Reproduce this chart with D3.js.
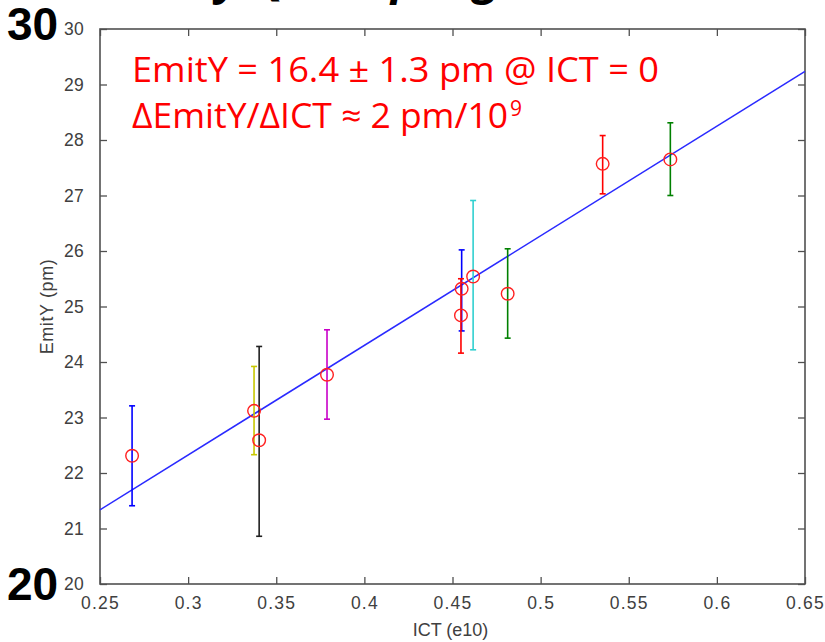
<!DOCTYPE html>
<html>
<head>
<meta charset="utf-8">
<script src="https://cdn.jsdelivr.net/npm/d3@7"></script>
<style>
  html, body { margin: 0; padding: 0; background: #fff; }
  svg { display: block; }
</style>
</head>
<body>
<svg id="chart" width="825" height="642"></svg>
<script>
// Measured beam size versus bunch intensity
const ict      = [0.2682, 0.3374, 0.3403, 0.3788, 0.4552, 0.4548, 0.4617, 0.4813, 0.5352, 0.5736];
const emitY    = [22.31, 23.12, 22.59, 23.77, 25.32, 24.84, 25.54, 25.23, 27.57, 27.65];
const errLow   = [21.41, 22.33, 20.86, 22.97, 24.56, 24.16, 24.22, 24.43, 27.03, 27.00];
const errHigh  = [23.21, 23.92, 24.28, 24.58, 26.02, 25.50, 26.91, 26.04, 28.08, 28.31];
const barColors = ["#0000ff", "#c8c800", "#202020", "#c800c8", "#0000ff", "#ff0000", "#30d0d0", "#008000", "#ff0000", "#008000"];

// Linear fit: EmitY = intercept + slope * ICT
const fitIntercept = 16.4;
const fitSlope = 19.75;

const xTicks = [0.25, 0.3, 0.35, 0.4, 0.45, 0.5, 0.55, 0.6, 0.65];
const yTicks = [20, 21, 22, 23, 24, 25, 26, 27, 28, 29, 30];

// Slide title words, running off the top edge
const titleWords = ["Intensity", "Q", "coupling"];

const svg = d3.select("#chart");
const L = 100, R = 805, T = 29, B = 584;

const x = d3.scaleLinear().domain([0.25, 0.65]).range([L, R]);
const y = d3.scaleLinear().domain([20, 30]).range([B, T]);

// Title: each word anchored at a given glyph position
const titleAnchors = [[8, 216], [0, 252], [3, 391]]; // [char index, x of that char]
titleWords.forEach((w, k) => {
  const t = svg.append("text")
    .attr("x", 0).attr("y", -6)
    .attr("font-family", "Open Sans, sans-serif")
    .attr("font-weight", "bold").attr("font-style", "italic")
    .attr("font-size", 46).attr("fill", "#000")
    .text(w);
  const [ci, cx] = titleAnchors[k];
  const off = t.node().getStartPositionOfChar(ci).x;
  t.attr("x", cx - off);
});

// Big slide labels beside the axis ends
svg.append("text").attr("x", 7).attr("y", 40)
  .attr("font-family", "Liberation Sans, Arial, sans-serif")
  .attr("font-weight", "bold").attr("font-size", 46).text("30");
svg.append("text").attr("x", 7).attr("y", 600)
  .attr("font-family", "Liberation Sans, Arial, sans-serif")
  .attr("font-weight", "bold").attr("font-size", 46).text("20");

const tickFont = "Liberation Sans, Arial, sans-serif";
const axisColor = "#505050";
const labelColor = "#404040";

// Axes with inward ticks on all four sides
const gx = svg.append("g").attr("transform", `translate(0,${B})`)
  .call(d3.axisBottom(x).tickValues(xTicks).tickSizeInner(-7).tickSizeOuter(0).tickPadding(13)
    .tickFormat(d3.format("~g")));
const gxTop = svg.append("g").attr("transform", `translate(0,${T})`)
  .call(d3.axisTop(x).tickValues(xTicks).tickSizeInner(-7).tickSizeOuter(0).tickFormat(""));
const gy = svg.append("g").attr("transform", `translate(${L},0)`)
  .call(d3.axisLeft(y).tickValues(yTicks).tickSizeInner(-7).tickSizeOuter(0).tickPadding(16));
const gyRight = svg.append("g").attr("transform", `translate(${R},0)`)
  .call(d3.axisRight(y).tickValues(yTicks).tickSizeInner(-7).tickSizeOuter(0).tickFormat(""));

[gx, gxTop, gy, gyRight].forEach(g => {
  g.select(".domain").remove();
  g.selectAll(".tick line").attr("stroke", axisColor).attr("stroke-width", 1.3);
  g.selectAll(".tick text")
    .attr("font-family", tickFont).attr("font-size", 17.5)
    .attr("fill", labelColor).attr("letter-spacing", 1.2);
});
gy.selectAll(".tick text").attr("dy", "0.34em").attr("letter-spacing", 0.3);
gx.selectAll(".tick text").attr("dy", "0.71em");

// Plot frame
svg.append("rect")
  .attr("x", L).attr("y", T).attr("width", R - L).attr("height", B - T)
  .attr("fill", "none").attr("stroke", axisColor).attr("stroke-width", 1.6);

// Axis titles
svg.append("text")
  .attr("x", (L + R) / 2 - 2).attr("y", 636)
  .attr("text-anchor", "middle")
  .attr("font-family", tickFont).attr("font-size", 18).attr("fill", labelColor)
  .text("ICT (e10)");
svg.append("text")
  .attr("transform", `translate(53,${(T + B) / 2}) rotate(-90)`)
  .attr("text-anchor", "middle")
  .attr("font-family", tickFont).attr("font-size", 18).attr("fill", labelColor)
  .attr("letter-spacing", 0.6)
  .text("EmitY (pm)");

// Fit line
const plot = svg.append("g");
plot.append("line")
  .attr("x1", x(0.25)).attr("y1", y(fitIntercept + fitSlope * 0.25))
  .attr("x2", x(0.65)).attr("y2", y(fitIntercept + fitSlope * 0.65))
  .attr("stroke", "#2a2aff").attr("stroke-width", 1.5);

// Error bars with caps
const idx = d3.range(ict.length);
const cap = 3;
const bars = plot.selectAll("g.err").data(idx).join("g").attr("class", "err")
  .attr("stroke", i => barColors[i]).attr("stroke-width", 1.6);
bars.append("line")
  .attr("x1", i => x(ict[i])).attr("x2", i => x(ict[i]))
  .attr("y1", i => y(errLow[i])).attr("y2", i => y(errHigh[i]));
bars.append("line")
  .attr("x1", i => x(ict[i]) - cap).attr("x2", i => x(ict[i]) + cap)
  .attr("y1", i => y(errLow[i])).attr("y2", i => y(errLow[i]));
bars.append("line")
  .attr("x1", i => x(ict[i]) - cap).attr("x2", i => x(ict[i]) + cap)
  .attr("y1", i => y(errHigh[i])).attr("y2", i => y(errHigh[i]));

// Measured points
plot.selectAll("circle.pt").data(idx).join("circle").attr("class", "pt")
  .attr("cx", i => x(ict[i])).attr("cy", i => y(emitY[i]))
  .attr("r", 6.3).attr("fill", "none")
  .attr("stroke", "#ff2020").attr("stroke-width", 1.4);

// Fit result annotation
const annoFont = "Open Sans, Noto Sans, sans-serif";
svg.append("text")
  .attr("x", 132).attr("y", 82)
  .attr("font-family", annoFont).attr("font-size", 34).attr("fill", "#ff0000")
  .attr("textLength", 527).attr("lengthAdjust", "spacingAndGlyphs")
  .text("EmitY = 16.4 ± 1.3 pm @ ICT = 0");
svg.append("text")
  .attr("x", 132).attr("y", 128)
  .attr("font-family", annoFont).attr("font-size", 34).attr("fill", "#ff0000")
  .attr("textLength", 376).attr("lengthAdjust", "spacingAndGlyphs")
  .text("ΔEmitY/ΔICT ≈ 2 pm/10");
svg.append("text")
  .attr("x", 510).attr("y", 116)
  .attr("font-family", annoFont).attr("font-size", 21).attr("fill", "#ff0000")
  .text("9");
</script>
</body>
</html>
